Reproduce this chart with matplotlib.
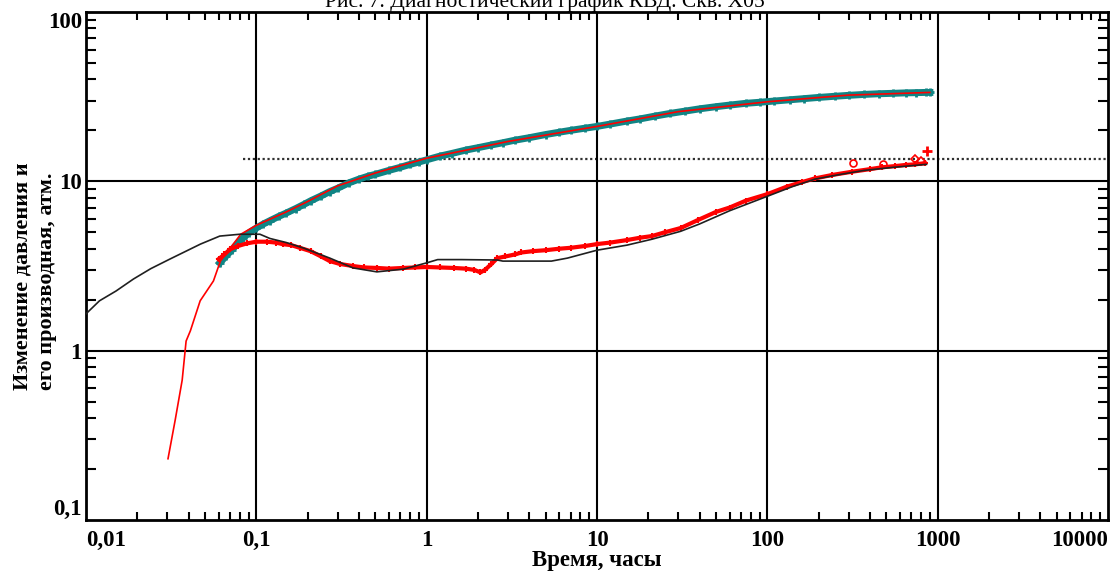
import matplotlib
matplotlib.use("Agg")
import matplotlib.pyplot as plt
from matplotlib.ticker import LogLocator, NullFormatter, FixedLocator, FixedFormatter

plt.rcParams['font.family'] = ['Liberation Serif', 'DejaVu Serif']

# model derivative (black line)
t_der_model = [0.01, 0.012, 0.015, 0.019, 0.024, 0.031, 0.047, 0.061, 0.08, 0.105, 0.12, 0.15,
               0.19, 0.27, 0.37, 0.51, 0.73, 1.0, 1.16, 1.6, 2.6, 2.8, 5.4, 6.7, 10, 15, 21,
               31, 40, 60, 100, 140, 190, 270, 370, 550, 860]
p_der_model = [1.65, 1.97, 2.25, 2.65, 3.05, 3.47, 4.26, 4.75, 4.87, 4.87, 4.6, 4.35,
               4.03, 3.52, 3.08, 2.92, 3.03, 3.3, 3.45, 3.45, 3.43, 3.38, 3.38, 3.52, 3.92, 4.2, 4.55,
               5.07, 5.6, 6.7, 8.16, 9.3, 10.3, 11.0, 11.6, 12.1, 12.6]

# model pressure change (red line)
t_p_model = [0.0303, 0.0334, 0.0367, 0.0387, 0.041, 0.0468, 0.056, 0.0615, 0.081, 0.1, 0.15,
             0.2, 0.3, 0.5, 1, 2, 3, 10, 30, 100, 300, 900]
p_model = [0.23, 0.39, 0.67, 1.14, 1.31, 1.97, 2.58, 3.38, 4.87, 5.5, 6.6,
           7.6, 9.4, 11.2, 13.7, 15.8, 17.2, 21.1, 25.8, 29.5, 32.3, 33.5]

# measured pressure change (teal crosses)
t_p_data = [0.061, 0.066, 0.072, 0.077, 0.083, 0.09, 0.1, 0.11, 0.12, 0.135, 0.15, 0.17, 0.19,
            0.21, 0.24, 0.27, 0.3, 0.35, 0.4, 0.45, 0.5, 0.6, 0.7, 0.8, 0.9, 1.0, 1.2, 1.4,
            1.7, 2.0, 2.4, 2.8, 3.3, 4, 5, 6, 7, 8.5, 10, 12, 15, 18, 22, 27, 33, 40, 50,
            60, 75, 90, 110, 135, 165, 200, 250, 300, 370, 450, 550, 650, 750, 850, 900]
p_data = [3.3, 3.6, 3.95, 4.25, 4.6, 4.95, 5.3, 5.6, 5.85, 6.2, 6.5, 6.9, 7.3,
          7.7, 8.2, 8.7, 9.1, 9.8, 10.3, 10.7, 11.0, 11.6, 12.1, 12.6, 13.0, 13.4, 14.1, 14.6,
          15.3, 15.8, 16.4, 16.9, 17.5, 18.1, 18.9, 19.5, 20.0, 20.6, 21.1, 21.8, 22.7, 23.4,
          24.3, 25.2, 26.0, 26.8, 27.6, 28.2, 28.9, 29.3, 29.8, 30.3, 30.8, 31.3, 31.8, 32.2,
          32.6, 32.9, 33.1, 33.3, 33.4, 33.5, 33.5]

# measured derivative (red crosses)
t_der_data = [0.06, 0.065, 0.07, 0.078, 0.088, 0.1, 0.115, 0.13, 0.144, 0.16, 0.18, 0.208, 0.24,
              0.27, 0.31, 0.37, 0.43, 0.51, 0.6, 0.73, 0.85, 1.0, 1.2, 1.44, 1.7, 1.9, 2.07,
              2.2, 2.4, 2.6, 2.9, 3.3, 3.6, 4.2, 5, 6, 7, 8.5, 10, 12, 15, 18, 21, 25, 31,
              39, 50, 60, 75, 100, 130, 160, 190, 240, 315, 400, 470, 560, 650, 740, 840]
der_data = [3.47, 3.7, 3.97, 4.15, 4.3, 4.4, 4.4, 4.35, 4.25, 4.2, 4.05, 3.87, 3.6,
            3.38, 3.25, 3.16, 3.1, 3.08, 3.05, 3.08, 3.1, 3.12, 3.1, 3.08, 3.05, 3.0, 2.9,
            3.0, 3.25, 3.52, 3.6, 3.7, 3.8, 3.87, 3.92, 4.0, 4.05, 4.15, 4.26, 4.35, 4.5, 4.65,
            4.75, 5.0, 5.3, 5.9, 6.6, 7.0, 7.7, 8.4, 9.3, 9.9, 10.4, 10.9, 11.4, 11.8, 12.1,
            12.3, 12.5, 12.6, 12.8]
# scattered derivative points above the trend
t_der_out = [319, 479, 733, 800, 870]
der_out = [12.8, 12.7, 13.5, 13.1, 15.2]

# radial flow level (dotted line)
radial_t = [0.083, 10000]
radial_level = [13.6, 13.6]

x_ticks = [0.01, 0.1, 1, 10, 100, 1000, 10000]
x_labels = ['0,01', '0,1', '1', '10', '100', '1000', '10000']
y_ticks = [0.1, 1, 10, 100]
y_labels = ['0,1', '1', '10', '100']

W, H = 1113, 572
fig = plt.figure(figsize=(W / 100, H / 100), dpi=100)
ax = fig.add_axes([86 / W, 52 / H, (1108 - 86) / W, (520 - 12) / H])
ax.set_xscale('log')
ax.set_yscale('log')
ax.set_xlim(0.01, 10000)
ax.set_ylim(0.1, 100)

teal = '#108585'
ax.plot(t_p_data, p_data, color=teal, lw=5, zorder=2)
ax.plot(t_p_data, p_data, '+', color=teal, ms=6, mew=2, zorder=2)
ax.plot(t_p_model, p_model, color='red', lw=1.2, zorder=4)

ax.plot(t_der_data, der_data, color='red', lw=3, zorder=3)
ax.plot(t_der_data, der_data, '+', color='red', ms=5, mew=1.5, zorder=3)
ax.plot(t_der_out[:2], der_out[:2], 'o', mfc='none', mec='red', ms=5, mew=1.2, zorder=3)
ax.plot(t_der_out[2:4], der_out[2:4], 'D', mfc='none', mec='red', ms=4, mew=1.2, zorder=3)
ax.plot(t_der_out[4:], der_out[4:], '+', color='red', ms=7, mew=2, zorder=3)
ax.plot(t_der_model, p_der_model, color='#202020', lw=1.2, zorder=5)

ax.plot(radial_t, radial_level, color='#303030', lw=1.6, ls=(0, (1, 1.2)), zorder=1)

# decade grid
for xv in x_ticks[1:-1]:
    ax.axvline(xv, color='black', lw=1.5, zorder=1)
for yv in y_ticks[1:-1]:
    ax.axhline(yv, color='black', lw=1.5, zorder=1)

for s in ax.spines.values():
    s.set_linewidth(2)

ax.xaxis.set_major_locator(FixedLocator(x_ticks))
ax.xaxis.set_major_formatter(FixedFormatter(x_labels))
ax.yaxis.set_major_locator(FixedLocator(y_ticks))
ax.yaxis.set_major_formatter(FixedFormatter(y_labels))
ax.xaxis.set_minor_locator(LogLocator(base=10, subs=range(2, 10), numticks=20))
ax.yaxis.set_minor_locator(LogLocator(base=10, subs=range(2, 10), numticks=20))
ax.xaxis.set_minor_formatter(NullFormatter())
ax.yaxis.set_minor_formatter(NullFormatter())
ax.tick_params(which='major', length=0)
ax.tick_params(which='minor', direction='in', length=6, width=1.5,
               top=True, right=True)
ax.tick_params(axis='y', which='minor', length=7.5)
ax.tick_params(axis='y', pad=3)
ax.tick_params(axis='x', pad=7)
for lab in ax.get_xticklabels() + ax.get_yticklabels():
    lab.set_fontsize(16.5)
    lab.set_fontweight('bold')
xl = ax.get_xticklabels()
xl[0].set_horizontalalignment('left')
xl[-1].set_horizontalalignment('right')
yl = ax.get_yticklabels()
yl[0].set_verticalalignment('bottom')
yl[-1].set_verticalalignment('top')

fig.text(597 / W, 1 - 566 / H, 'Время, часы', ha='center', va='baseline',
         fontsize=16.5, fontweight='bold')
fig.text(35 / W, 1 - 390 / H, 'Изменение давления и\nего производная, атм.',
         rotation=90, ha='center', va='bottom', multialignment='left',
         fontsize=16, fontweight='bold', linespacing=1.3)
fig.text(545 / W, 1 - 7 / H, 'Рис. 7. Диагностический график КВД. Скв. Х05',
         ha='center', va='baseline', fontsize=15.5)

fig.savefig('out.png', dpi=100)
